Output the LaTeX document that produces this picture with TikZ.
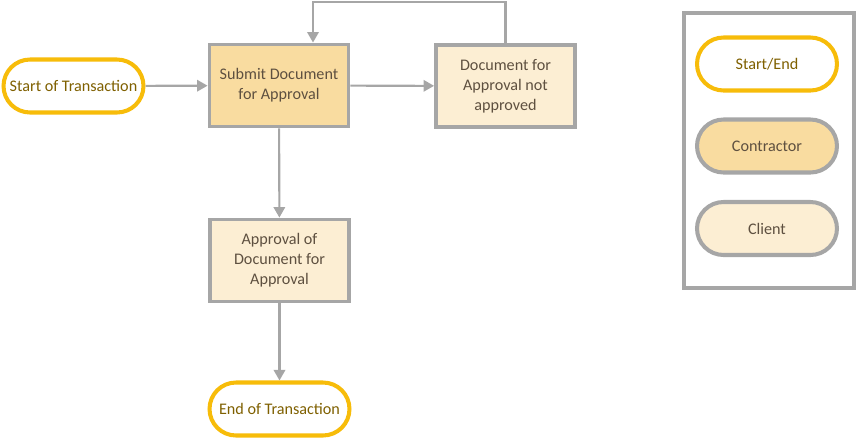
\documentclass[tikz,border=0pt]{standalone}
\usepackage{fontspec}
\setmainfont{Carlito}
\usepackage{tikz}
\usetikzlibrary{arrows.meta, positioning}

\definecolor{termline}{HTML}{F7BC0A}
\definecolor{boxline}{HTML}{A6A6A6}
\definecolor{contrfill}{HTML}{F9DCA0}
\definecolor{clientfill}{HTML}{FCEED3}
\definecolor{termtext}{HTML}{7F6000}
\definecolor{boxtext}{HTML}{5E5040}

\begin{document}
\begin{tikzpicture}[
  x=0.02cm, y=-0.02cm,
  font=\fontsize{9.2}{11.3}\selectfont,
  terminal/.style={draw=termline, line width=2.3pt, fill=white, rounded corners=0.53cm, minimum width=2.8cm, minimum height=1.06cm, text=termtext, align=center},
  contractor/.style={draw=boxline, line width=2.2pt, fill=contrfill, minimum width=2.78cm, minimum height=1.64cm, text=boxtext, align=center},
  client/.style={contractor, fill=clientfill},
  legitem/.style={draw=boxline, line width=2.3pt, rounded corners=0.53cm, minimum width=2.8cm, minimum height=1.06cm, text=boxtext, align=center},
  flow/.style={draw=boxline, line width=1.2pt, -{Triangle[length=6pt, width=6.5pt]}},
]
\useasboundingbox (0,0) rectangle (860,440);

% Process
\node[terminal]   (start)    at (73.5,86)   {Start of Transaction};
\node[contractor] (submit)   at (279,85.5)  {Submit Document\\for Approval};
\node[client]     (rejected) at (505.5,86)  {Document for\\Approval not\\approved};
\node[client]     (approval) at (279.5,260.5) {Approval of\\Document for\\Approval};
\node[terminal]   (end)      at (279.5,409) {End of Transaction};

% Connectors
\coordinate (loop) at (313,2);
\draw[flow] (start) -- (submit);
\draw[flow] (submit) -- (rejected);
\draw[flow] (rejected.north) |- (loop) -- (loop |- submit.north);
\draw[flow] (submit) -- (approval);
\draw[flow] (approval) -- (end);

% Legend
\draw[boxline, line width=2.2pt] (684,13) rectangle (854,288);
\node[legitem, draw=termline, fill=white, text=termtext] (legend1) at (767,64)    {Start/End};
\node[legitem, fill=contrfill]                          (legend2) at (767,146)   {Contractor};
\node[legitem, fill=clientfill]                         (legend3) at (767,228.5) {Client};

\end{tikzpicture}
\end{document}
